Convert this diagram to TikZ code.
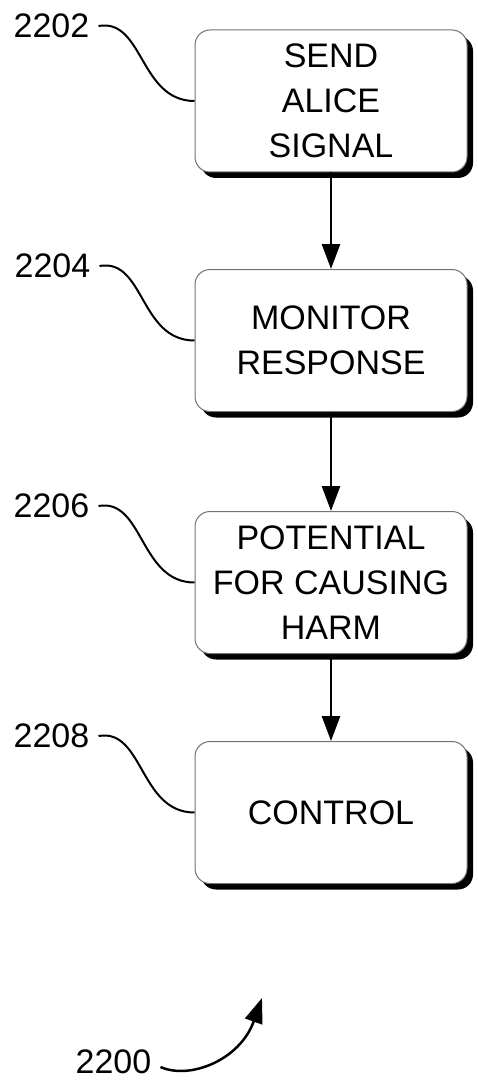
\documentclass[tikz,border=0pt]{standalone}
\usepackage{fontspec}
\setmainfont{Liberation Sans}
\usetikzlibrary{arrows.meta,shadows}
\begin{document}
\begin{tikzpicture}[x=1pt,y=-1pt,
  stepbox/.style={draw=black!55, line width=1pt, fill=white, rounded corners=15pt,
    minimum width=272pt, minimum height=142pt, align=center,
    font=\fontsize{34}{45}\selectfont,
    drop shadow={shadow xshift=6pt, shadow yshift=-6pt, fill=black, opacity=1}},
  reflabel/.style={font=\fontsize{34}{40}\selectfont, inner xsep=9pt, inner ysep=0pt},
  leader/.style={line width=2pt, black},
  flow/.style={line width=2.7pt, -{Triangle[length=25pt,width=18pt]}}
]
\useasboundingbox (0,0) rectangle (477,1086);
\node[stepbox] (b1) at (331,101) {SEND\\ALICE\\SIGNAL};
\node[stepbox] (b2) at (331,340.5) {MONITOR\\RESPONSE};
\node[stepbox] (b3) at (331,582.5) {POTENTIAL\\FOR CAUSING\\HARM};
\node[stepbox] (b4) at (331,812.5) {CONTROL};
\draw[flow] (b1.south) -- (b2.north);
\draw[flow] (b2.south) -- (b3.north);
\draw[flow] (b3.south) -- (b4.north);
\node[reflabel] (l1) at (51.5,26) {2202};
\node[reflabel] (l2) at (52.5,266) {2204};
\node[reflabel] (l3) at (51.5,506) {2206};
\node[reflabel] (l4) at (51.5,736) {2208};
\node[reflabel] (l0) at (113.5,1062) {2200};
\draw[leader] (l1.east) .. controls +(45,-8) and +(-55,0) .. (b1.west);
\draw[leader] (l2.east) .. controls +(45,-8) and +(-55,0) .. (b2.west);
\draw[leader] (l3.east) .. controls +(45,-8) and +(-55,0) .. (b3.west);
\draw[leader] (l4.east) .. controls +(45,-8) and +(-55,0) .. (b4.west);
\coordinate (tip) at (262,998);
\draw[line width=2.5pt, -{Triangle[length=25pt,width=18pt]}] ([yshift=-5pt]l0.east) .. controls (190,1080) and (240,1060) .. (tip);
\end{tikzpicture}
\end{document}
